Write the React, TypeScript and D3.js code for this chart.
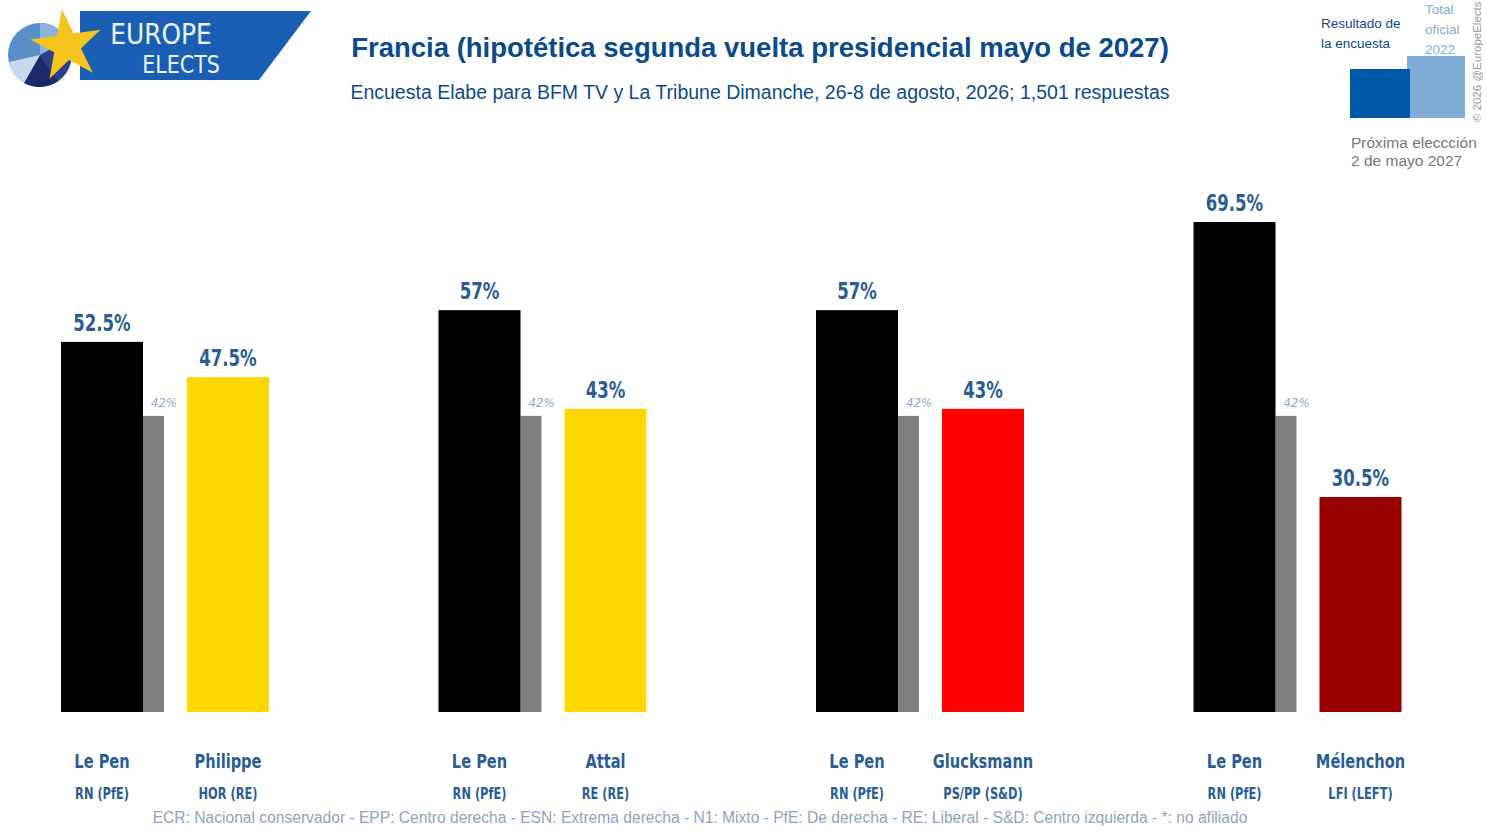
import React from "react";
import * as d3 from "d3";

const scenarios = ["s1", "s2", "s3", "s4"];
const leaders = ["Le Pen", "Le Pen", "Le Pen", "Le Pen"];
const leaderParties = ["RN (PfE)", "RN (PfE)", "RN (PfE)", "RN (PfE)"];
const leaderValues = [52.5, 57, 57, 69.5];
const officialValues = [42, 42, 42, 42];
const challengers = ["Philippe", "Attal", "Glucksmann", "Mélenchon"];
const challengerParties = ["HOR (RE)", "RE (RE)", "PS/PP (S&D)", "LFI (LEFT)"];
const challengerValues = [47.5, 43, 43, 30.5];
const challengerColors = ["#FFD700", "#FFD700", "#FF0000", "#990000"];

const W = 1487;
const H = 833;
const BLUE = "#0b4a8b";
const LABEL = "#2a5d93";
const COND = "'DejaVu Sans', sans-serif";

// narrow text: the original uses a condensed face, so squeeze horizontally
const Cond = ({
  x,
  y,
  sx,
  font,
  fill,
  children,
}: {
  x: number;
  y: number;
  sx: number;
  font: string;
  fill: string;
  children: React.ReactNode;
}) => (
  <text
    transform={`translate(${x},${y}) scale(${sx},1)`}
    textAnchor="middle"
    fill={fill}
    style={{ font }}
  >
    {children}
  </text>
);

export default function App() {
  const x = d3
    .scaleBand<string>()
    .domain(scenarios)
    .range([61, 61 + 377.5 * 4])
    .paddingInner(0)
    .paddingOuter(0);

  const y = d3.scaleLinear().domain([0, 70]).range([712, 218.5]);

  const barW = 82;
  const grayW = 21;
  const secondOff = 126;

  const fmt = (v: number) => `${v}%`;

  const star = d3.symbol().type(d3.symbolStar).size(1550)();

  return (
    <div style={{ position: "fixed", left: 0, top: 0 }}>
      <svg width={W} height={H} style={{ display: "block", background: "#fff" }}>
        {/* logo */}
        <g>
          <path d="M80,11 L311,11 L259,80 L80,80 Z" fill="#1a5fb4" />
          <circle cx={40} cy={55} r={32} fill="#5b8fc7" />
          <path d="M40,55 L40,23 A32,32 0 0,1 68,40 Z" fill="#8db4de" />
          <path d="M40,55 L68,40 A32,32 0 0,1 58,81 Z" fill="#2d3f8a" />
          <path d="M40,55 L58,81 A32,32 0 0,1 24,83 Z" fill="#1c2a6b" />
          <path d="M40,55 L24,83 A32,32 0 0,1 9,62 Z" fill="#c7d9ee" />
          <path d={star || ""} transform="translate(67,46) rotate(-8)" fill="#f5c51b" />
          <Cond x={161} y={44} sx={0.86} fill="#eef6ff" font={`29px ${COND}`}>
            EUROPE
          </Cond>
          <Cond x={181} y={73} sx={0.86} fill="#eef6ff" font={`24px ${COND}`}>
            ELECTS
          </Cond>
        </g>

        {/* titles */}
        <text
          x={760}
          y={57}
          textAnchor="middle"
          fill={BLUE}
          style={{ font: "bold 27.5px 'Liberation Sans', Arial, sans-serif" }}
        >
          Francia (hipotética segunda vuelta presidencial mayo de 2027)
        </text>
        <text
          x={760}
          y={99}
          textAnchor="middle"
          fill={BLUE}
          style={{ font: "19.5px 'Liberation Sans', Arial, sans-serif" }}
        >
          Encuesta Elabe para BFM TV y La Tribune Dimanche, 26-8 de agosto, 2026; 1,501 respuestas
        </text>

        {/* legend top right */}
        <g style={{ font: "13.5px 'Liberation Sans', Arial, sans-serif" }}>
          <text x={1321} y={28} fill={BLUE}>Resultado de</text>
          <text x={1321} y={48} fill={BLUE}>la encuesta</text>
          <text x={1425} y={14} fill="#7fadd8">Total</text>
          <text x={1425} y={34} fill="#7fadd8">oficial</text>
          <text x={1425} y={54} fill="#7fadd8">2022</text>
          <rect x={1407} y={56} width={58} height={62} fill="#7fadd8" />
          <rect x={1350} y={69} width={60} height={49} fill="#0058a8" />
          <text
            transform="translate(1481,122) rotate(-90)"
            fill="#9a9a9a"
            style={{ font: "11.5px 'Liberation Sans', Arial, sans-serif" }}
          >
            © 2026 @EuropeElects
          </text>
          <text x={1351} y={148} fill="#777" style={{ font: "15.5px 'Liberation Sans', Arial, sans-serif" }}>
            Próxima eleccción
          </text>
          <text x={1351} y={166} fill="#777" style={{ font: "15.5px 'Liberation Sans', Arial, sans-serif" }}>
            2 de mayo 2027
          </text>
        </g>

        {/* bars */}
        {scenarios.map((s, i) => {
          const x0 = x(s) ?? 0;
          const cx1 = x0 + barW / 2;
          const cx2 = x0 + secondOff + barW / 2;
          return (
            <g key={s}>
              <rect
                x={x0 + barW}
                y={y(officialValues[i])}
                width={grayW}
                height={y(0) - y(officialValues[i])}
                fill="#808080"
              />
              <rect
                x={x0}
                y={y(leaderValues[i])}
                width={barW}
                height={y(0) - y(leaderValues[i])}
                fill="#000"
              />
              <rect
                x={x0 + secondOff}
                y={y(challengerValues[i])}
                width={barW}
                height={y(0) - y(challengerValues[i])}
                fill={challengerColors[i]}
              />
              <Cond
                x={x0 + barW + grayW}
                y={y(officialValues[i]) - 9}
                sx={0.9}
                fill="#8aaccc"
                font={`italic 13px ${COND}`}
              >
                {fmt(officialValues[i])}
              </Cond>
              <Cond x={cx1} y={y(leaderValues[i]) - 11} sx={0.72} fill={LABEL} font={`bold 23px ${COND}`}>
                {fmt(leaderValues[i])}
              </Cond>
              <Cond x={cx2} y={y(challengerValues[i]) - 11} sx={0.72} fill={LABEL} font={`bold 23px ${COND}`}>
                {fmt(challengerValues[i])}
              </Cond>
              <Cond x={cx1} y={768} sx={0.77} fill={LABEL} font={`bold 19px ${COND}`}>
                {leaders[i]}
              </Cond>
              <Cond x={cx2} y={768} sx={0.77} fill={LABEL} font={`bold 19px ${COND}`}>
                {challengers[i]}
              </Cond>
              <Cond x={cx1} y={799} sx={0.76} fill={LABEL} font={`bold 15px ${COND}`}>
                {leaderParties[i]}
              </Cond>
              <Cond x={cx2} y={799} sx={0.76} fill={LABEL} font={`bold 15px ${COND}`}>
                {challengerParties[i]}
              </Cond>
            </g>
          );
        })}

        {/* footer */}
        <text
          x={700}
          y={823}
          textAnchor="middle"
          fill="#8ea4bd"
          style={{ font: "15.6px 'Liberation Sans', Arial, sans-serif" }}
        >
          ECR: Nacional conservador - EPP: Centro derecha - ESN: Extrema derecha - N1: Mixto - PfE: De derecha - RE: Liberal - S&amp;D: Centro izquierda - *: no afiliado
        </text>
      </svg>
    </div>
  );
}
